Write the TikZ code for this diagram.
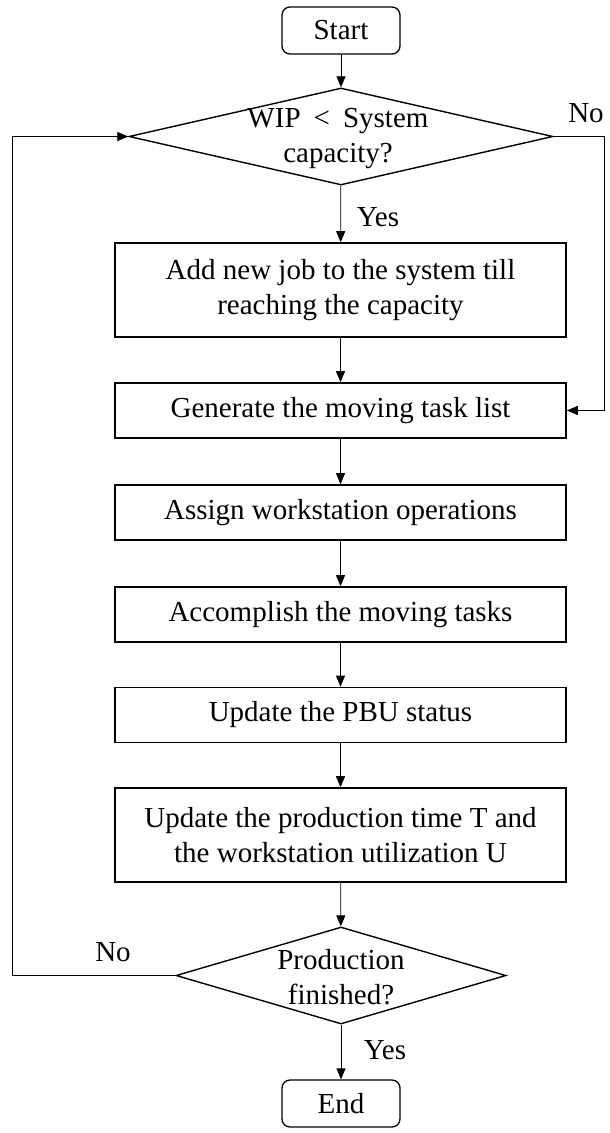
\documentclass[tikz,border=0pt]{standalone}
\usepackage{fontspec}
\setmainfont{Liberation Serif}
\usetikzlibrary{shapes.geometric,arrows.meta}

\tikzset{
  every node/.style={font=\fontsize{29}{35}\selectfont},
  stepbox/.style={draw, line width=1.6pt, rectangle, minimum width=451pt,
                  align=center, inner sep=0pt},
  terminal/.style={draw, line width=1.3pt, rounded corners=8pt,
                   minimum width=118pt, minimum height=47pt, inner sep=0pt},
  decision/.style={draw, line width=1.4pt, diamond, inner sep=0pt},
  question/.style={align=center, inner sep=0pt},
  flow/.style={line width=0.8pt, -{Triangle[length=11pt,width=9pt]}},
  branch/.style={inner sep=0pt}
}

\begin{document}
\begin{tikzpicture}[x=1pt,y=-1pt]
\useasboundingbox (0,0) rectangle (610,1133);

% main column
\node[terminal] (start) at (341,30.5) {Start};
\node[decision, minimum width=424pt, minimum height=97pt] (d1) at (341,136.5) {};
\node[question] (q1) at (338,139) {WIP\hspace{0.45em}<\hspace{0.45em}System\\capacity?};
\node[stepbox, minimum height=94pt] (b1) at (340.5,290)
  {Add new job to the system till\\reaching the capacity};
\node[stepbox, minimum height=55pt] (b2) at (340.5,410.5)
  {Generate the moving task list};
\node[stepbox, minimum height=55pt] (b3) at (340.5,512.5)
  {Assign workstation operations};
\node[stepbox, minimum height=55pt] (b4) at (340.5,614.5)
  {Accomplish the moving tasks};
\node[stepbox, minimum height=55pt] (b5) at (340.5,715)
  {Update the PBU status};
\node[stepbox, minimum height=94pt] (b6) at (340.5,835)
  {Update the production time T and\\the workstation utilization U};
\node[decision, minimum width=330pt, minimum height=97pt] (d2) at (341,975.5) {};
\node[question] (q2) at (341,977) {Production\\finished?};
\node[terminal] (end) at (341,1103.5) {End};

% branch labels
\node[branch] (yes1) at (378,217) {Yes};
\node[branch] (no1) at (586,113) {No};
\node[branch] (no2) at (113,952) {No};
\node[branch] (yes2) at (385,1050) {Yes};

% loop corners
\coordinate (rtop) at (604,136.5);
\coordinate (lbot) at (12,975.5);

% connectors
\draw[flow] (start) -- (d1);
\draw[flow] (d1) -- (b1);
\draw[flow] (b1) -- (b2);
\draw[flow] (b2) -- (b3);
\draw[flow] (b3) -- (b4);
\draw[flow] (b4) -- (b5);
\draw[flow] (b5) -- (b6);
\draw[flow] (b6) -- (d2);
\draw[flow] (d2) -- (end);
\draw[flow] (d1.east) -- (rtop) |- (b2.east);
\draw[flow] (d2.west) -- (lbot) |- (d1.west);
\end{tikzpicture}
\end{document}
